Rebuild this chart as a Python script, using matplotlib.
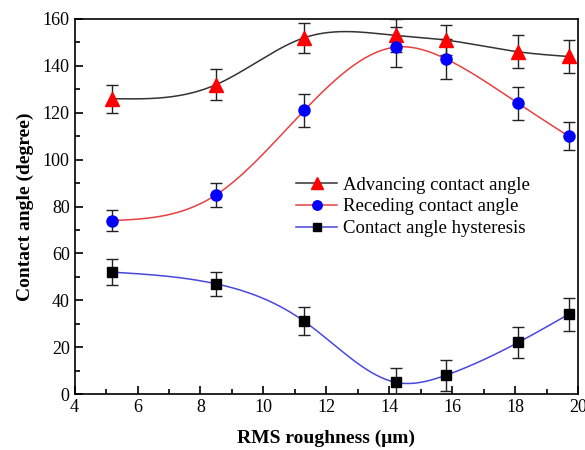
import matplotlib
matplotlib.use('Agg')
import matplotlib.pyplot as plt
from matplotlib.lines import Line2D
from matplotlib.ticker import MultipleLocator
import numpy as np

plt.rcParams['font.family'] = ['Liberation Serif', 'DejaVu Serif']

# data
roughness = [5.2, 8.5, 11.3, 14.2, 15.8, 18.1, 19.7]
advancing = [126, 132, 152, 153, 151, 146, 144]
advancing_err = [6, 6.5, 6.5, 7, 6.5, 7, 7]
receding = [74, 85, 121, 148, 143, 124, 110]
receding_err = [4.5, 5, 7, 8.5, 8.5, 7, 6]
hysteresis = [52, 47, 31, 5, 8, 22, 34]
hysteresis_err = [5.5, 5, 6, 6, 6.5, 6.5, 7]


def natural_spline(x, y, n=300):
    # natural cubic spline, only used to draw the smooth connecting line
    x = np.asarray(x, float)
    y = np.asarray(y, float)
    k = len(x)
    h = np.diff(x)
    A = np.zeros((k, k))
    b = np.zeros(k)
    A[0, 0] = A[-1, -1] = 1
    for i in range(1, k - 1):
        A[i, i - 1] = h[i - 1]
        A[i, i] = 2 * (h[i - 1] + h[i])
        A[i, i + 1] = h[i]
        b[i] = 6 * ((y[i + 1] - y[i]) / h[i] - (y[i] - y[i - 1]) / h[i - 1])
    m = np.linalg.solve(A, b)
    xs = np.linspace(x[0], x[-1], n)
    idx = np.clip(np.searchsorted(x, xs) - 1, 0, k - 2)
    t0 = x[idx]
    t1 = x[idx + 1]
    hh = t1 - t0
    ys = (m[idx] * (t1 - xs) ** 3 / (6 * hh) + m[idx + 1] * (xs - t0) ** 3 / (6 * hh)
          + (y[idx] / hh - m[idx] * hh / 6) * (t1 - xs)
          + (y[idx + 1] / hh - m[idx + 1] * hh / 6) * (xs - t0))
    return xs, ys


fig = plt.figure(figsize=(5.85, 4.5), dpi=100)
ax = fig.add_axes([0.1275, 0.1244, 0.8605, 0.8334])

series = [
    (advancing, advancing_err, '#333333', 'red', '^', 9.5, 'Advancing contact angle'),
    (receding, receding_err, '#e84040', 'blue', 'o', 8, 'Receding contact angle'),
    (hysteresis, hysteresis_err, '#4848e0', 'black', 's', 7, 'Contact angle hysteresis'),
]

handles = []
for vals, err, lc, mc, mk, ms, lab in series:
    xs, ys = natural_spline(roughness, vals)
    ax.plot(xs, ys, color=lc, lw=1.1, zorder=2)
    ax.errorbar(roughness, vals, yerr=err, fmt='none', ecolor='#222222',
                elinewidth=1, capsize=4, capthick=1, zorder=3)
    ax.plot(roughness, vals, ls='none', marker=mk, ms=ms, color=mc, zorder=4)
    handles.append(Line2D([], [], color=lc, lw=1.1, marker=mk, ms=ms * 0.85,
                          markerfacecolor=mc, markeredgecolor=mc, label=lab))

ax.set_xlim(4, 20)
ax.set_ylim(0, 160)
ax.xaxis.set_major_locator(MultipleLocator(2))
ax.xaxis.set_minor_locator(MultipleLocator(1))
ax.yaxis.set_major_locator(MultipleLocator(20))
ax.yaxis.set_minor_locator(MultipleLocator(10))
ax.tick_params(which='both', direction='in', top=False, right=False, labelsize=13, width=1.2)
ax.tick_params(which='major', length=6)
ax.tick_params(which='minor', length=3.5)
for s in ax.spines.values():
    s.set_linewidth(1.2)

ax.set_xlabel('RMS roughness (μm)', fontsize=14, fontweight='bold', labelpad=10)
ax.set_ylabel('Contact angle (degree)', fontsize=14, fontweight='bold', labelpad=6)

ax.legend(handles=handles, loc='upper left', bbox_to_anchor=(0.425, 0.6), frameon=False,
          fontsize=13.5, handlelength=2.2, handletextpad=0.3, labelspacing=0.25,
          borderaxespad=0)

fig.savefig('out.png', dpi=100)
